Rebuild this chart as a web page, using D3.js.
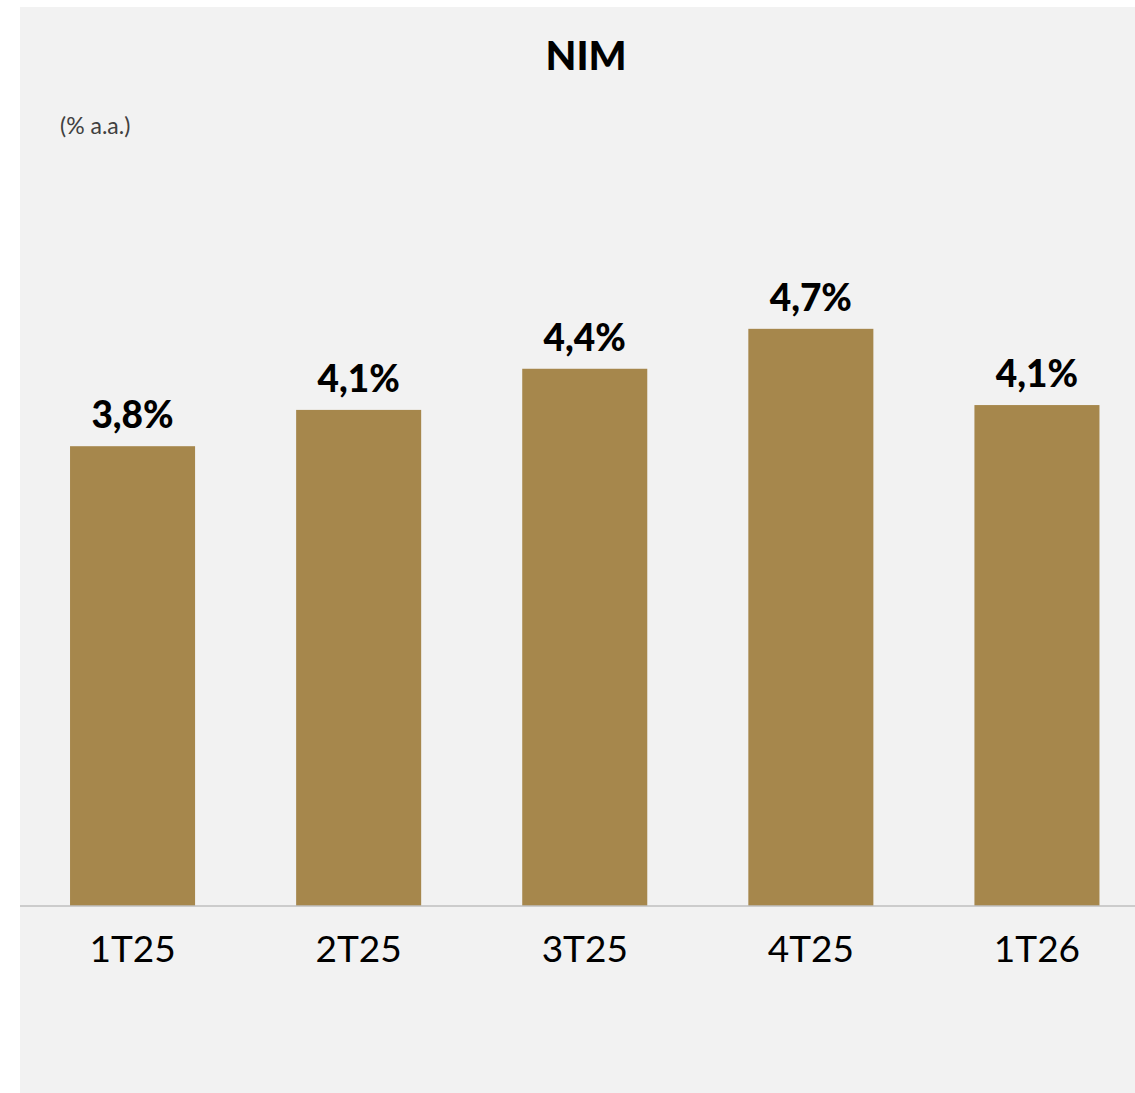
<!DOCTYPE html>
<html>
<head>
<meta charset="utf-8">
<script src="https://cdn.jsdelivr.net/npm/d3@7"></script>
<style>
  body { margin: 0; background: #ffffff; }
  svg { display: block; }
</style>
</head>
<body>
<div id="chart"></div>
<script>
// Page is 1135 x 1093 px.
var width = 1135;
var height = 1093;

// Quarters and NIM values (% a.a.).
var quarters = ["1T25", "2T25", "3T25", "4T25", "1T26"];
var nimValues = [3.80, 4.10, 4.44, 4.77, 4.14];
var nimLabels = ["3,8%", "4,1%", "4,4%", "4,7%", "4,1%"];

var fontFamily = "Lato, 'Open Sans', sans-serif";
var baseline = 906;

var svg = d3.select('#chart')
			.append('svg')
			.attr('width', width)
			.attr('height', height);

// Grey panel behind everything.
svg.append('rect')
	.attr('x', 20)
	.attr('y', 7)
	.attr('width', width - 20)
	.attr('height', height - 7)
	.attr('fill', '#f2f2f2');

var x = d3.scaleBand()
			.domain(quarters)
			.range([19.5, 1150])
			.paddingInner(0.447)
			.paddingOuter(0.2235);

var y = d3.scaleLinear()
			.domain([0, 5])
			.range([baseline, baseline - 605]);

var data = quarters.map(function(q, i) {
	return { q : q, v : nimValues[i], label : nimLabels[i] };
});

svg.selectAll('.bar')
	.data(data)
	.enter()
	.append('rect')
	.attr('class', 'bar')
	.attr('x', function(d) { return x(d.q); })
	.attr('y', function(d) { return y(d.v); })
	.attr('width', x.bandwidth())
	.attr('height', function(d) { return baseline - y(d.v); })
	.attr('fill', '#a6874c');

// Value labels above bars.
svg.selectAll('.val')
	.data(data)
	.enter()
	.append('text')
	.attr('class', 'val')
	.attr('x', function(d) { return x(d.q) + x.bandwidth() / 2; })
	.attr('y', function(d) { return y(d.v) - 18; })
	.attr('text-anchor', 'middle')
	.attr('font-family', fontFamily)
	.attr('font-weight', 900)
	.attr('font-size', 37)
	.attr('fill', '#000')
	.text(function(d) { return d.label; });

// Category axis.
var xAxis = svg.append('g')
	.attr('transform', 'translate(0,' + baseline + ')')
	.call(d3.axisBottom(x).tickSize(0).tickPadding(30));

xAxis.select('.domain').remove();
xAxis.append('line')
	.attr('x1', 20)
	.attr('x2', width)
	.attr('y1', 0)
	.attr('y2', 0)
	.attr('stroke', '#bfbfbf')
	.attr('stroke-width', 1.5);

xAxis.selectAll('text')
	.attr('font-family', fontFamily)
	.attr('font-size', 37)
	.attr('fill', '#000');

// Title and unit note.
svg.append('text')
	.attr('x', 586)
	.attr('y', 70)
	.attr('text-anchor', 'middle')
	.attr('font-family', fontFamily)
	.attr('font-weight', 900)
	.attr('font-size', 40)
	.attr('fill', '#000')
	.text('NIM');

svg.append('text')
	.attr('x', 60)
	.attr('y', 134)
	.attr('font-family', fontFamily)
	.attr('font-size', 23)
	.attr('fill', '#404040')
	.text('(% a.a.)');
</script>
</body>
</html>
